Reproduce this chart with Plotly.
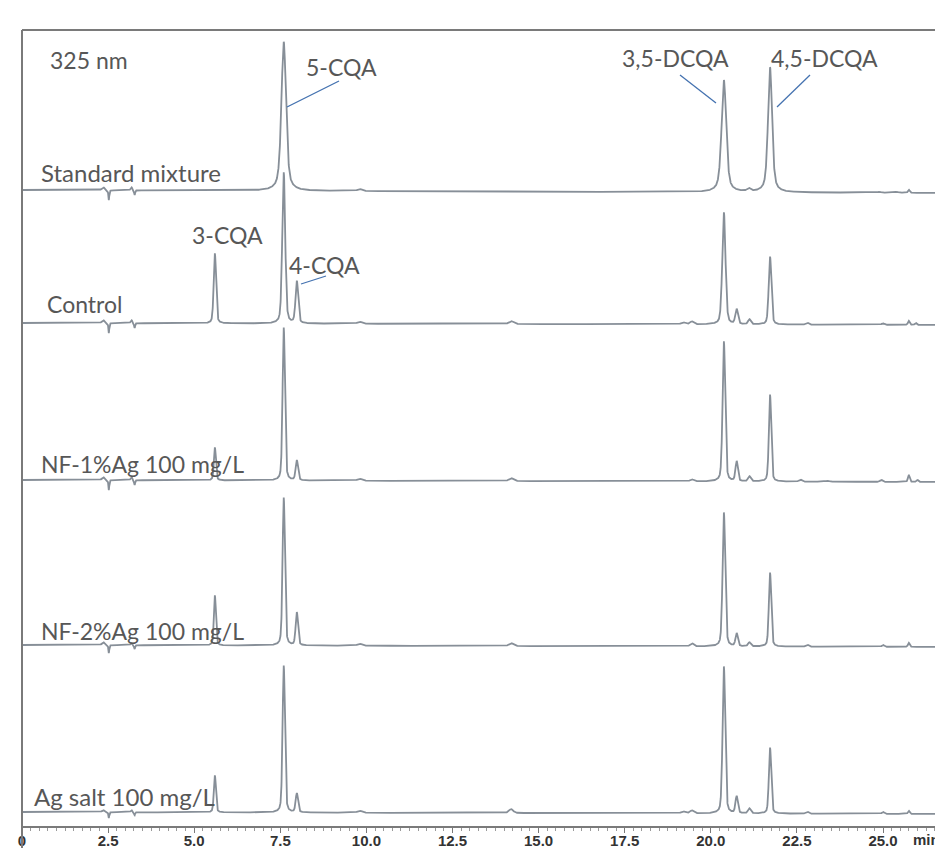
import numpy as np
import plotly.graph_objects as go

# ---------------- data ----------------
trace_names = ["Standard mixture", "Control", "NF-1%Ag 100 mg/L",
               "NF-2%Ag 100 mg/L", "Ag salt 100 mg/L"]
# vertical offsets of each chromatogram (arbitrary units)
baseline_offsets = [636, 503, 346, 181, 14]
baseline_drift = [-3, -2, -2, -2, -2]
lorentz_fraction = [0.55, 0.35, 0.35, 0.35, 0.35]

# retention time (min), height (a.u.), FWHM (min)
std_rt = [2.36, 2.52, 3.18, 3.27, 7.60, 9.80, 20.38, 21.10, 21.72, 24.90, 25.40, 25.75]
std_h = [3, -10, 3, -5, 149, 2, 112, 3, 125, 1, 1, 3]
std_w = [0.10, 0.03, 0.06, 0.03, 0.16, 0.15, 0.16, 0.12, 0.14, 0.10, 0.10, 0.06]

ctl_rt = [2.36, 2.52, 3.18, 3.27, 5.60, 7.60, 7.98, 9.80, 14.20, 19.20, 19.45,
          20.38, 20.75, 21.12, 21.72, 22.80, 25.00, 25.75, 25.95]
ctl_h = [3, -10, 3, -5, 70, 151, 42, 2, 3, 2, 3, 112, 15, 5, 68, 2, 1.5, 4, 2]
ctl_w = [0.10, 0.03, 0.06, 0.03, 0.08, 0.10, 0.09, 0.15, 0.15, 0.15, 0.12,
         0.11, 0.09, 0.09, 0.09, 0.10, 0.10, 0.06, 0.06]

nf1_rt = [2.36, 2.52, 3.18, 3.27, 5.60, 7.60, 7.98, 9.80, 14.20, 19.45,
          20.38, 20.75, 21.12, 21.72, 22.60, 23.40, 24.95, 25.75, 26.00]
nf1_h = [3, -10, 3, -5, 33, 153, 20, 2, 3, 2, 140, 20, 5, 87, 2, 1, 2, 7, 2]
nf1_w = [0.10, 0.03, 0.06, 0.03, 0.07, 0.08, 0.08, 0.15, 0.15, 0.12,
         0.09, 0.08, 0.09, 0.08, 0.10, 0.10, 0.08, 0.06, 0.06]

nf2_rt = [2.36, 2.52, 3.18, 3.27, 5.60, 7.60, 7.98, 9.80, 14.20, 19.45,
          20.38, 20.75, 21.12, 21.72, 22.80, 25.00, 25.75]
nf2_h = [3, -8, 2, -4, 50, 148, 33, 2, 3, 3, 134, 13, 4, 74, 2, 2, 4]
nf2_w = [0.10, 0.03, 0.06, 0.03, 0.07, 0.08, 0.08, 0.15, 0.15, 0.12,
         0.09, 0.08, 0.09, 0.08, 0.10, 0.08, 0.06]

ag_rt = [2.36, 2.52, 3.18, 3.27, 5.60, 7.60, 7.98, 9.80, 14.20, 19.20, 19.45,
         20.38, 20.75, 21.12, 21.72, 22.80, 25.00, 25.75]
ag_h = [2, -6, 2, -3, 37, 147, 19, 2, 4, 2, 3, 147, 17, 5, 66, 2, 2, 3]
ag_w = [0.10, 0.03, 0.06, 0.03, 0.07, 0.08, 0.08, 0.15, 0.15, 0.15, 0.12,
        0.09, 0.08, 0.09, 0.08, 0.10, 0.08, 0.06]

peak_tables = [(std_rt, std_h, std_w), (ctl_rt, ctl_h, ctl_w), (nf1_rt, nf1_h, nf1_w),
               (nf2_rt, nf2_h, nf2_w), (ag_rt, ag_h, ag_w)]

x_tick_vals = [0, 2.5, 5.0, 7.5, 10.0, 12.5, 15.0, 17.5, 20.0, 22.5, 25.0]
x_tick_text = ["0", "2.5", "5.0", "7.5", "10.0", "12.5", "15.0", "17.5", "20.0", "22.5", "25.0"]

# ---------------- layout geometry ----------------
# the page body has an 8 px margin, so the figure is shifted by 8 px in the window
BODY = 8
W, H = 943, 848
ML, MT, MB = 22 - BODY, 30 - BODY, 22 + BODY
PX_PER_MIN = 34.44
PLOT_W = W - ML
X_MAX = PLOT_W / PX_PER_MIN
Y_MAX = H - MT - MB


def X(px):  # window pixel -> minutes
    return (px - 22) / PX_PER_MIN


def Y(py):  # window pixel -> a.u.
    return 826 - py


t = np.arange(0.0, X_MAX + 0.005, 0.004)


def chromatogram(rts, hs, ws, eta, offset, drift):
    y = offset + drift * t / X_MAX
    for rt, h, w in zip(rts, hs, ws):
        g = np.exp(-4 * np.log(2) * ((t - rt) / w) ** 2)
        lo = 1.0 / (1.0 + 4 * ((t - rt) / w) ** 2)
        y = y + h * ((1 - eta) * g + eta * lo)
    return y


fig = go.Figure()
line_color = "#878f98"
for name, (rts, hs, ws), off, dr, eta in zip(trace_names, peak_tables, baseline_offsets,
                                               baseline_drift, lorentz_fraction):
    fig.add_trace(go.Scatter(x=t, y=chromatogram(rts, hs, ws, eta, off, dr), mode="lines",
                             line=dict(color=line_color, width=1.8), name=name,
                             showlegend=False, hoverinfo="skip"))

FONT_FAMILY = "Lato, 'Open Sans', sans-serif"
ann = []


def label(text, px, py, size=23, anchor="left"):
    ann.append(dict(x=X(px), y=Y(py), xref="x", yref="y", text=text, showarrow=False,
                    xanchor=anchor, yanchor="middle",
                    font=dict(family=FONT_FAMILY, size=size, color="#575757")))


label("325 nm", 48, 60)
label("Standard mixture", 39, 172, size=24)
label("Control", 45, 304)
label("NF-1%Ag 100 mg/L", 39, 464)
label("NF-2%Ag 100 mg/L", 39, 631)
label("Ag salt 100 mg/L", 32, 796, size=24)
label("5-CQA", 304, 67)
label("3,5-DCQA", 620, 58)
label("4,5-DCQA", 769, 58)
label("3-CQA", 190, 235)
label("4-CQA", 287, 265)

# axis unit, in line with the tick labels
ann.append(dict(x=X(911), y=-13 / Y_MAX, xref="x", yref="paper", text="<b>min</b>",
                showarrow=False, xanchor="left", yanchor="middle",
                font=dict(family="Liberation Sans, Arial", size=15, color="#333333")))

shapes = []
lead_color = "#4472b0"
for (x0, y0, x1, y1) in [(287, 107, 339, 81), (680, 75, 716, 103),
                         (810, 75, 777, 107), (301, 284, 326, 276)]:
    shapes.append(dict(type="line", xref="x", yref="y", x0=X(x0), y0=Y(y0), x1=X(x1), y1=Y(y1),
                       line=dict(color=lead_color, width=1.3)))

frame_color = "#7a7a7a"
shapes.append(dict(type="line", xref="paper", yref="paper", x0=0, x1=0, y0=-MB / Y_MAX, y1=1,
                   line=dict(color=frame_color, width=2)))
shapes.append(dict(type="line", xref="paper", yref="paper", x0=0, x1=1, y0=1, y1=1,
                   line=dict(color=frame_color, width=2)))

fig.update_layout(
    width=W, height=H,
    margin=dict(l=ML, r=0, t=MT, b=MB, autoexpand=False),
    paper_bgcolor="white", plot_bgcolor="white",
    annotations=ann, shapes=shapes,
    xaxis=dict(range=[0, X_MAX], showgrid=False, zeroline=False, showline=True,
               linecolor=frame_color, linewidth=2, ticks="outside", ticklen=5,
               tickcolor=frame_color, tickvals=x_tick_vals, ticktext=x_tick_text,
               ticklabelstandoff=-5,
               tickfont=dict(family="Liberation Sans, Arial", size=15, color="#333333",
                             weight="bold"),
               minor=dict(dtick=0.25, ticks="outside", ticklen=3, tickcolor="#9a9a9a"),
               automargin=False, fixedrange=True),
    yaxis=dict(range=[0, Y_MAX], visible=False, showgrid=False, zeroline=False,
               automargin=False, fixedrange=True),
)

fig.write_html("out.html")
